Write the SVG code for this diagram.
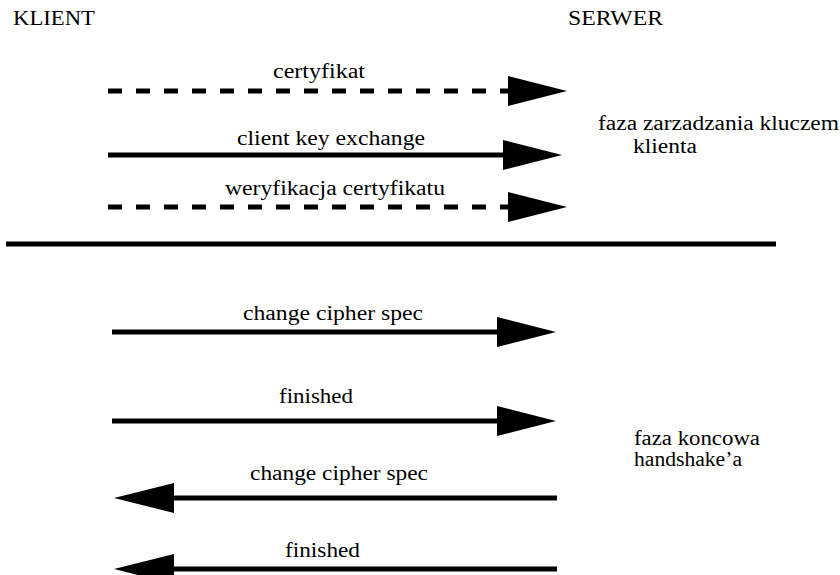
<svg xmlns="http://www.w3.org/2000/svg" width="840" height="575" viewBox="0 0 840 575">
<style>
.ln{stroke:#000;stroke-width:5;fill:none}
.dash{stroke-dasharray:14 14}
.hd{fill:#000;stroke:none}
.t{font-family:'Liberation Serif','DejaVu Serif',serif;font-size:20px;fill:#000}
.big{font-size:22px}
</style>
<rect width="840" height="575" fill="#fff"/>
<g id="klient"><text class="t big" x="13" y="25" textLength="82" lengthAdjust="spacingAndGlyphs">KLIENT</text></g>
<g id="serwer"><text class="t big" x="568" y="25" textLength="95" lengthAdjust="spacingAndGlyphs">SERWER</text></g>
<g id="faza-klucz">
<text class="t" x="598" y="130" textLength="241" lengthAdjust="spacingAndGlyphs">faza zarzadzania kluczem</text>
<text class="t" x="633" y="153" textLength="64" lengthAdjust="spacingAndGlyphs">klienta</text>
</g>
<g id="faza-koncowa">
<text class="t" x="634" y="445" textLength="126" lengthAdjust="spacingAndGlyphs">faza koncowa</text>
<text class="t" x="634" y="466" textLength="108" lengthAdjust="spacingAndGlyphs">handshake’a</text>
</g>
<g id="divider"><line class="ln" x1="6" y1="244" x2="776" y2="244"/></g>
<g id="connectors">
<g id="m1">
<line class="ln dash" x1="108" y1="91" x2="510" y2="91"/>
<polygon class="hd" points="508,76 567,91 508,106"/>
<text class="t" x="273" y="78" textLength="92" lengthAdjust="spacingAndGlyphs">certyfikat</text>
</g>
<g id="m2">
<line class="ln" x1="108" y1="155" x2="505" y2="155"/>
<polygon class="hd" points="503,140 562,155 503,170"/>
<text class="t" x="237" y="145" textLength="188" lengthAdjust="spacingAndGlyphs">client key exchange</text>
</g>
<g id="m3">
<line class="ln dash" x1="108" y1="207" x2="510" y2="207"/>
<polygon class="hd" points="508,192 567,207 508,222"/>
<text class="t" x="225" y="195" textLength="220" lengthAdjust="spacingAndGlyphs">weryfikacja certyfikatu</text>
</g>
<g id="m4">
<line class="ln" x1="112" y1="332" x2="499" y2="332"/>
<polygon class="hd" points="497,317 556,332 497,347"/>
<text class="t" x="243" y="320" textLength="180" lengthAdjust="spacingAndGlyphs">change cipher spec</text>
</g>
<g id="m5">
<line class="ln" x1="112" y1="421" x2="499" y2="421"/>
<polygon class="hd" points="497,406 556,421 497,436"/>
<text class="t" x="279" y="403" textLength="74" lengthAdjust="spacingAndGlyphs">finished</text>
</g>
<g id="m6">
<line class="ln" x1="557" y1="498" x2="172" y2="498"/>
<polygon class="hd" points="174,483 114,498 174,513"/>
<text class="t" x="250" y="480" textLength="178" lengthAdjust="spacingAndGlyphs">change cipher spec</text>
</g>
<g id="m7">
<line class="ln" x1="557" y1="569" x2="172" y2="569"/>
<polygon class="hd" points="174,554 114,569 174,584"/>
<text class="t" x="285" y="557" textLength="75" lengthAdjust="spacingAndGlyphs">finished</text>
</g>
</g>
</svg>
